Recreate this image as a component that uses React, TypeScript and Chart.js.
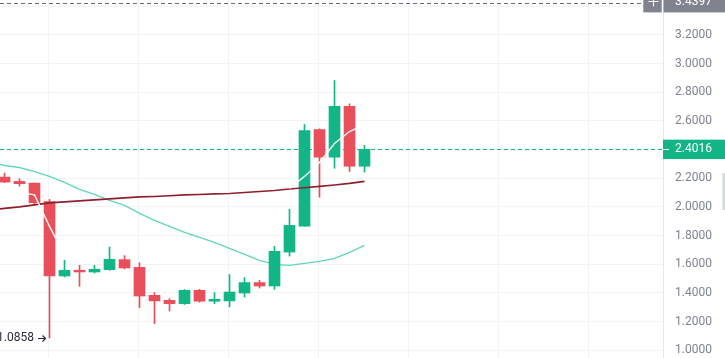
import React, { useEffect, useRef } from "react";
import { Chart, registerables } from "chart.js";

Chart.register(...registerables);

// ---- data ----
const candleIdx = [0, 1, 2, 3, 4, 5, 6, 7, 8, 9, 10, 11, 12, 13, 14, 15, 16, 17, 18, 19, 20, 21, 22, 23, 24];
const openP = [2.208, 2.178, 2.166, 2.038, 1.518, 1.558, 1.546, 1.562, 1.632, 1.578, 1.383, 1.348, 1.325, 1.418, 1.342, 1.344, 1.399, 1.472, 1.448, 1.685, 1.866, 2.54, 2.347, 2.702, 2.284];
const highP = [2.236, 2.197, 2.166, 2.052, 1.627, 1.592, 1.592, 1.72, 1.66, 1.61, 1.402, 1.36, 1.423, 1.425, 1.402, 1.528, 1.507, 1.488, 1.725, 1.983, 2.575, 2.545, 2.882, 2.719, 2.429];
const lowP = [2.17, 2.145, 2.021, 1.0858, 1.511, 1.446, 1.539, 1.558, 1.567, 1.296, 1.186, 1.274, 1.319, 1.335, 1.325, 1.302, 1.371, 1.434, 1.425, 1.657, 1.866, 2.068, 2.27, 2.247, 2.243];
const closeP = [2.173, 2.162, 2.029, 1.518, 1.558, 1.546, 1.565, 1.634, 1.574, 1.378, 1.344, 1.325, 1.418, 1.342, 1.355, 1.406, 1.472, 1.448, 1.69, 1.871, 2.533, 2.347, 2.702, 2.284, 2.4016];

const maIdx = [-1, 0, 1, 2, 3, 4, 5, 6, 7, 8, 9, 10, 11, 12, 13, 14, 15, 16, 17, 18, 19, 20, 21, 22, 23, 24];
const maTeal = [2.317, 2.289, 2.275, 2.247, 2.213, 2.171, 2.122, 2.087, 2.045, 2.01, 1.955, 1.906, 1.864, 1.822, 1.787, 1.753, 1.711, 1.669, 1.627, 1.599, 1.592, 1.606, 1.62, 1.641, 1.683, 1.732];
const maDarkRed = [1.979, 1.9895, 2.0, 2.014, 2.028, 2.035, 2.042, 2.049, 2.056, 2.063, 2.07, 2.073, 2.078, 2.084, 2.087, 2.091, 2.094, 2.101, 2.108, 2.115, 2.125, 2.134, 2.143, 2.153, 2.164, 2.178];
const maWhite = [null, null, 2.101, 2.084, 1.864, 1.662, null, null, null, null, null, null, null, null, null, null, null, null, null, null, 2.129, 2.2125, 2.31, 2.4425, 2.526, 2.575];

const priceTicks = [1.0, 1.2, 1.4, 1.6, 1.8, 2.0, 2.2, 2.4, 2.6, 2.8, 3.0, 3.2, 3.4];
const timeGridIdx = [2.92, 8.92, 14.92, 20.92, 26.92, 32.92, 38.92];
const lastPrice = 2.4016;
const topPrice = 3.4397;
const lowestIdx = 3;

// ---- styles ----
const UP = "#12b585";
const DOWN = "#e84f5a";
const FONT = "Roboto, 'Noto Sans', sans-serif";

export default function App() {
  const ref = useRef<HTMLCanvasElement | null>(null);

  useEffect(() => {
    if (!ref.current) return;
    const colors = candleIdx.map((_, k) => (closeP[k] >= openP[k] ? UP : DOWN));

    const underlay = {
      id: "underlay",
      beforeDatasetsDraw(chart: any) {
        const { ctx, chartArea: a } = chart;
        const ys = chart.scales.y;
        ctx.save();
        ctx.lineWidth = 1;
        const py = Math.round(ys.getPixelForValue(lastPrice)) + 0.5;
        ctx.setLineDash([4, 3]);
        ctx.strokeStyle = "#14b88a";
        ctx.beginPath();
        ctx.moveTo(a.left, py);
        ctx.lineTo(a.right, py);
        ctx.stroke();
        const th = Math.round(ys.getPixelForValue(topPrice)) + 2.5;
        ctx.strokeStyle = "#6a6d78";
        ctx.beginPath();
        ctx.moveTo(a.left, th);
        ctx.lineTo(a.right - 20, th);
        ctx.stroke();
        ctx.restore();
      },
    };

    const overlay = {
      id: "overlay",
      afterDraw(chart: any) {
        const { ctx, chartArea: a, width } = chart;
        const ys = chart.scales.y;
        const xs = chart.scales.x;
        ctx.save();
        // current price label
        const py = ys.getPixelForValue(lastPrice);
        ctx.fillStyle = UP;
        ctx.fillRect(a.right, py - 9.7, width - a.right, 19.4);
        ctx.strokeStyle = "#ffffff";
        ctx.lineWidth = 1;
        ctx.beginPath();
        ctx.moveTo(a.right, Math.round(py) + 0.5);
        ctx.lineTo(a.right + 6, Math.round(py) + 0.5);
        ctx.stroke();
        ctx.fillStyle = "#ffffff";
        ctx.font = `12px ${FONT}`;
        ctx.textAlign = "left";
        ctx.textBaseline = "middle";
        ctx.fillText(lastPrice.toFixed(4), a.right + 12, py);

        // top price label (cut off)
        const tp = ys.getPixelForValue(topPrice) + 1.8;
        ctx.fillStyle = "#80838d";
        ctx.fillRect(a.right + 0.5, tp - 10, width - a.right, 20);
        ctx.fillRect(a.right - 19.7, tp - 10, 18.4, 20);
        ctx.fillStyle = "#ffffff";
        ctx.fillText(topPrice.toFixed(4), a.right + 12, tp);
        ctx.strokeStyle = "#ffffff";
        ctx.beginPath();
        const cx = Math.round(a.right - 10.5) + 0.5;
        ctx.moveTo(cx - 5, Math.round(tp) - 0.5);
        ctx.lineTo(cx + 5, Math.round(tp) - 0.5);
        ctx.moveTo(cx, tp - 6);
        ctx.lineTo(cx, tp + 4);
        ctx.stroke();

        // lowest price marker
        const lx = xs.getPixelForValue(candleIdx[lowestIdx]);
        const ly = ys.getPixelForValue(lowP[lowestIdx]);
        ctx.fillStyle = "#2a2e39";
        ctx.textAlign = "right";
        ctx.fillText(lowP[lowestIdx].toFixed(4), lx - 15.5, ly + 0.5);
        const ay = Math.round(ly) + 0.5;
        ctx.strokeStyle = "#2a2e39";
        ctx.lineWidth = 1.2;
        ctx.beginPath();
        ctx.moveTo(lx - 11.5, ay);
        ctx.lineTo(lx - 4, ay);
        ctx.moveTo(lx - 7, ay - 3);
        ctx.lineTo(lx - 4, ay);
        ctx.lineTo(lx - 7, ay + 3);
        ctx.stroke();

        // scrollbar hint
        ctx.fillStyle = "#d5d7dc";
        ctx.fillRect(width - 2.5, 173, 2.5, 37);
        ctx.restore();
      },
    };

    const chart = new Chart(ref.current, {
      type: "bar",
      data: {
        datasets: [
          {
            type: "line",
            data: maIdx.map((x, k) => ({ x, y: maWhite[k] })),
            borderColor: "rgba(255,255,255,0.92)",
            borderWidth: 1.5,
            pointRadius: 0,
            tension: 0,
            spanGaps: false,
            order: 0,
          } as any,
          {
            type: "line",
            data: maIdx.map((x, k) => ({ x, y: maDarkRed[k] })),
            borderColor: "#8e1f2d",
            borderWidth: 1.6,
            pointRadius: 0,
            tension: 0,
            order: 1,
          } as any,
          {
            type: "bar",
            data: candleIdx.map((x, k) => ({ x, y: [openP[k], closeP[k]] })),
            backgroundColor: colors,
            barThickness: 11,
            grouped: false,
            borderWidth: 0,
            minBarLength: 1,
            order: 2,
          } as any,
          {
            type: "bar",
            data: candleIdx.map((x, k) => ({ x, y: [lowP[k], highP[k]] })),
            backgroundColor: colors,
            barThickness: 1,
            grouped: false,
            borderWidth: 0,
            order: 3,
          } as any,
          {
            type: "line",
            data: maIdx.map((x, k) => ({ x, y: maTeal[k] })),
            borderColor: "#62d5bb",
            borderWidth: 1.3,
            pointRadius: 0,
            tension: 0,
            order: 4,
          } as any,
        ],
      },
      options: {
        animation: false,
        responsive: true,
        maintainAspectRatio: false,
        events: [],
        layout: { padding: 0 },
        plugins: { legend: { display: false }, tooltip: { enabled: false } },
        scales: {
          x: {
            type: "linear",
            min: -0.3,
            max: 43.9,
            offset: false,
            afterBuildTicks: (s: any) => {
              s.ticks = timeGridIdx.map((v) => ({ value: v }));
            },
            afterFit: (s: any) => {
              s.height = 0;
              s.paddingLeft = 0;
              s.paddingRight = 0;
            },
            ticks: { display: false },
            grid: { color: "#f2f3f6", drawTicks: false, offset: false },
            border: { display: false },
          },
          y: {
            type: "linear",
            position: "right",
            min: 0.9456,
            max: 3.4439,
            afterBuildTicks: (s: any) => {
              s.ticks = priceTicks.map((v) => ({ value: v }));
            },
            afterFit: (s: any) => {
              s.width = 62;
              s.paddingTop = 0;
              s.paddingBottom = 0;
            },
            ticks: {
              autoSkip: false,
              padding: 12,
              color: "#7f838d",
              font: { family: FONT, size: 12 },
              callback: (v: any) => Number(v).toFixed(4),
            },
            grid: { color: "#f2f3f6", drawTicks: false },
            border: { display: true, color: "#e6e8ee" },
          },
        },
      } as any,
      plugins: [underlay, overlay],
    });
    return () => chart.destroy();
  }, []);

  return (
    <div style={{ position: "absolute", left: 0, top: 0, width: 725, height: 358, background: "#ffffff" }}>
      <canvas ref={ref} />
    </div>
  );
}
